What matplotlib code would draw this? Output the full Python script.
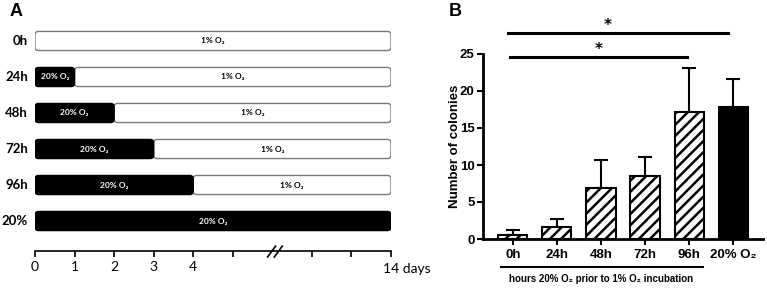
import matplotlib.pyplot as plt
from matplotlib.patches import FancyBboxPatch

plt.rcParams['hatch.linewidth'] = 1.8

# panel A: schedule of oxygen exposure
rows = ['0h', '24h', '48h', '72h', '96h', '20%']
hi_o2_days = [0, 1, 2, 3, 4, 9]      # position on the broken time axis where 20% O2 ends
axis_ticks = [0, 1, 2, 3, 4, 5, 7, 8, 9]
axis_labels = ['0', '1', '2', '3', '4', '', '', '', '']

# panel B: colony counts
groups = ['0h', '24h', '48h', '72h', '96h', '20% O₂']
colonies = [0.55, 1.6, 6.9, 8.5, 17.2, 17.8]
colonies_err = [0.65, 1.1, 3.8, 2.6, 5.9, 3.8]
hatched = [True, True, True, True, True, False]

fA = ['Lato', 'DejaVu Sans']
fB = ['Liberation Sans', 'DejaVu Sans']

fig = plt.figure(figsize=(7.67, 2.9), dpi=100)

# ---------------- panel A ----------------
axA = fig.add_axes([35/767, 39/290, 356/767, 231/290])
axA.set_xlim(0, 9)
axA.set_ylim(5.833, -0.583)
for s in ['top', 'right', 'left']:
    axA.spines[s].set_visible(False)
axA.spines['bottom'].set_linewidth(1.2)
axA.set_yticks([])
axA.set_xticks(axis_ticks)
axA.set_xticklabels(axis_labels, fontsize=10, family=fA)
axA.tick_params(axis='x', length=4.5, width=1.2, pad=3)
axA.text(8.8, 6.33, '14 days', ha='left', va='center', fontsize=10, family=fA, clip_on=False)

h = 0.53
for i, (lab, d) in enumerate(zip(rows, hi_o2_days)):
    axA.text(-0.18, i, lab, ha='right', va='center', fontsize=9.5, fontweight='bold', family=fA)
    if d < 9:
        p = FancyBboxPatch((d, i - h/2), 9 - d, h, boxstyle='round,pad=0,rounding_size=0.09',
                           facecolor='white', edgecolor='#7a7a7a', lw=1.0)
        axA.add_patch(p)
        axA.text((d + 9)/2, i, '1% O₂', ha='center', va='center', fontsize=6,
                 fontweight='bold', family=fA)
    if d > 0:
        p = FancyBboxPatch((0, i - h/2), d, h, boxstyle='round,pad=0,rounding_size=0.09',
                           facecolor='black', edgecolor='black', lw=1.0)
        axA.add_patch(p)
        axA.text(d/2, i, '20% O₂', ha='center', va='center', fontsize=6,
                 fontweight='bold', color='white', family=fA)

# axis break marks
for x0 in [5.88, 6.05]:
    axA.plot([x0, x0 + 0.2], [6.0, 5.7], color='black', lw=1.2, clip_on=False)

fig.text(10/767, 1 - 11/290, 'A', fontsize=13, fontweight='bold', family=fB, va='center')
fig.text(449/767, 1 - 11/290, 'B', fontsize=13, fontweight='bold', family=fB, va='center')

# ---------------- panel B ----------------
axB = fig.add_axes([483/767, 51/290, 280/767, 185/290])
x = list(range(len(groups)))
for xi, v, hh in zip(x, colonies, hatched):
    axB.bar(xi, v, width=0.66, facecolor='white' if hh else 'black', edgecolor='black',
            linewidth=1.5, hatch='///' if hh else None, zorder=2)
axB.errorbar(x, colonies, yerr=[[0]*6, colonies_err], fmt='none', ecolor='black',
             elinewidth=1.5, capsize=5, capthick=1.5, zorder=1)
axB.set_xlim(-0.68, 5.68)
axB.set_ylim(0, 25)
axB.spines['top'].set_visible(False)
axB.spines['right'].set_visible(False)
axB.spines['left'].set_linewidth(2)
axB.spines['bottom'].set_linewidth(2)
axB.set_yticks([0, 5, 10, 15, 20, 25])
axB.set_xticks(x)
axB.set_xticklabels(groups, fontsize=9.5, fontweight='bold', family=fB)
for t in axB.get_yticklabels():
    t.set_fontsize(9.5)
    t.set_fontweight('bold')
    t.set_family(fB)
axB.tick_params(axis='y', length=4, width=1.5, pad=2)
axB.tick_params(axis='x', length=4, width=1.5, pad=3)
axB.set_ylabel('Number of colonies', fontsize=9.5, fontweight='bold', family=fB)
axB.yaxis.set_label_coords(-0.078, 0.5)

# significance bars
axB.plot([-0.11, 4.89], [27.8, 27.8], color='black', lw=2.2, clip_on=False)
axB.text(2.16, 28.8, '*', ha='center', va='center', fontsize=11, fontweight='bold', clip_on=False)
axB.plot([-0.07, 3.95], [24.6, 24.6], color='black', lw=2.2, clip_on=False)
axB.text(1.95, 25.6, '*', ha='center', va='center', fontsize=11, fontweight='bold', clip_on=False)

# group bracket under x labels
axB.plot([-0.27, 4.32], [-3.8, -3.8], color='black', lw=1.5, clip_on=False)
axB.text(2.0, -5.4, 'hours 20% O₂ prior to 1% O₂ incubation', ha='center', va='center',
         fontsize=7, fontweight='bold', family=fB, clip_on=False)

fig.savefig('out.png', dpi=100)
